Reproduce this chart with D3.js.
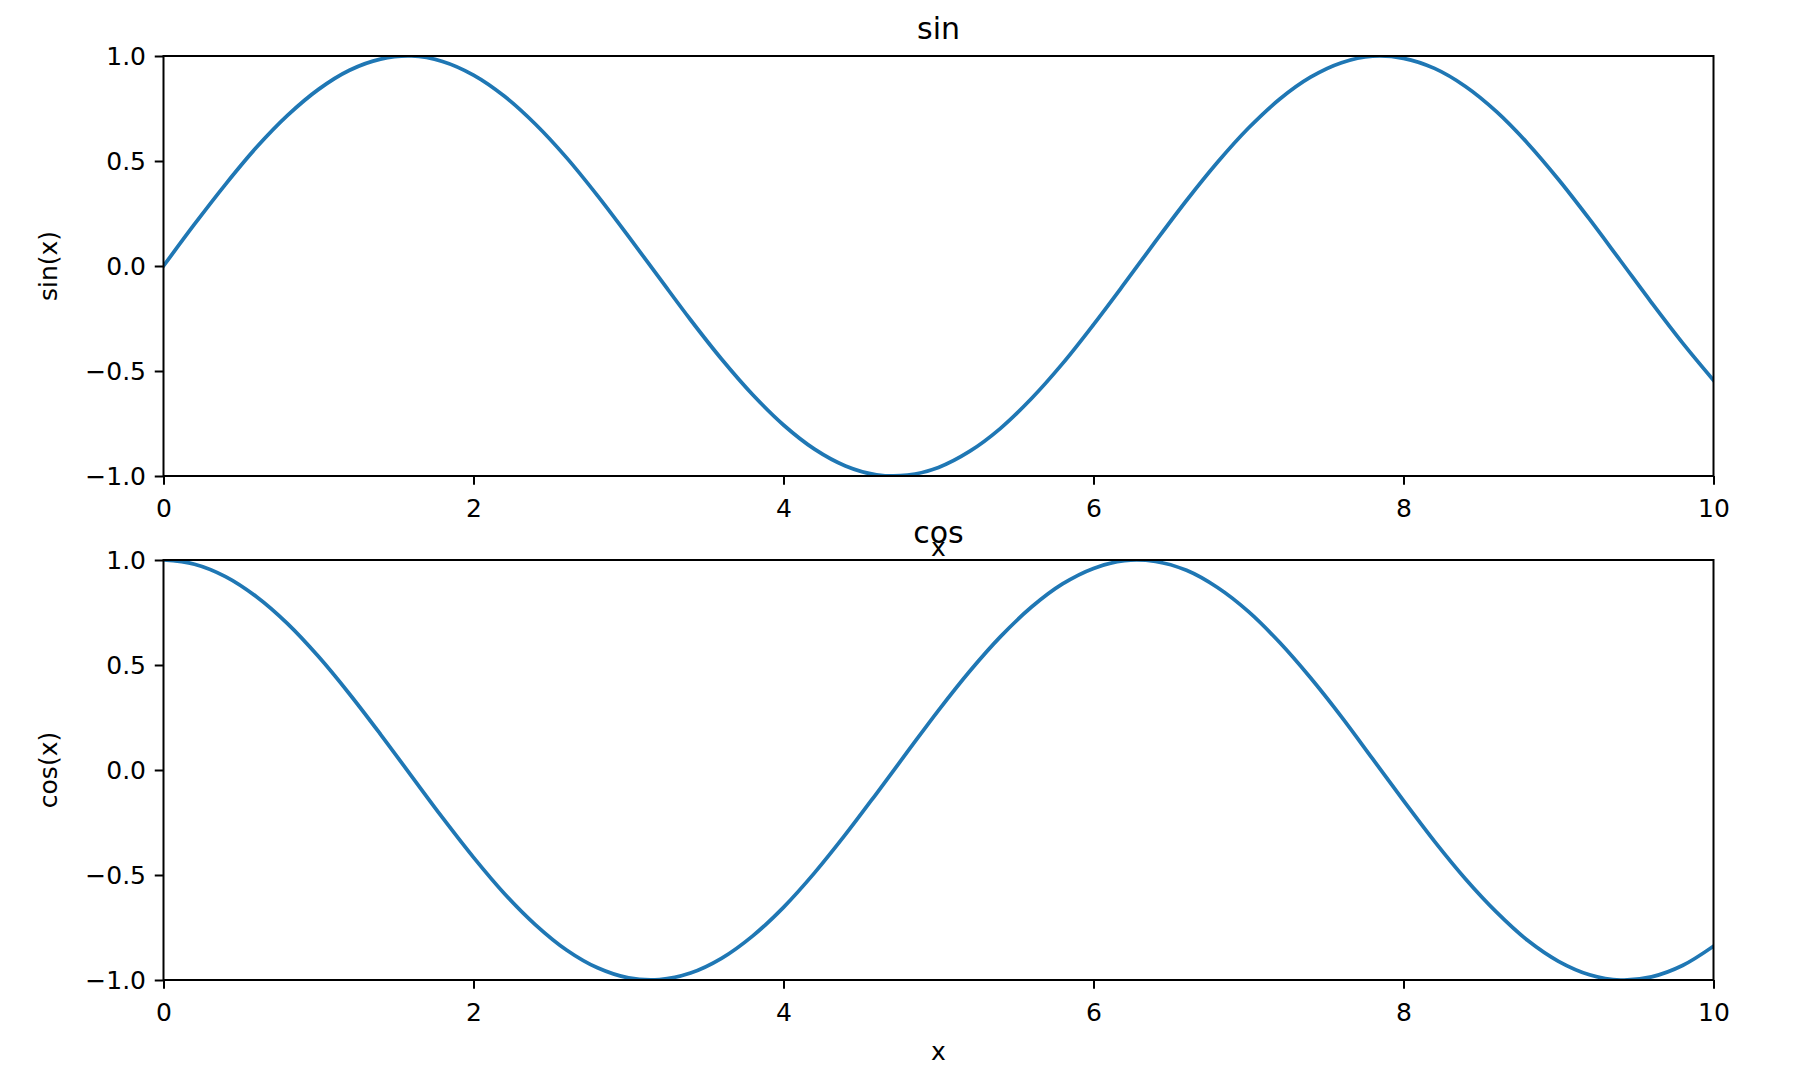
<!DOCTYPE html>
<html>
<head>
<meta charset="utf-8">
<script src="https://cdn.jsdelivr.net/npm/d3@7"></script>
<style>
  html, body { margin: 0; padding: 0; background: #fff; }
  svg { display: block; font-family: "DejaVu Sans", sans-serif; }
</style>
</head>
<body>
<svg id="chart" width="1802" height="1074"></svg>
<script>
// ---- data ----
const xValues = [0.0,0.2,0.4,0.6,0.8,1.0,1.2,1.4,1.6,1.8,2.0,2.2,2.4,2.6,2.8,3.0,3.2,3.4,3.6,3.8,4.0,4.2,4.4,4.6,4.8,5.0,5.2,5.4,5.6,5.8,6.0,6.2,6.4,6.6,6.8,7.0,7.2,7.4,7.6,7.8,8.0,8.2,8.4,8.6,8.8,9.0,9.2,9.4,9.6,9.8,10.0];
const sinValues = [0.000,0.199,0.389,0.565,0.717,0.841,0.932,0.985,1.000,0.974,0.909,0.808,0.675,0.516,0.335,0.141,-0.058,-0.256,-0.443,-0.612,-0.757,-0.872,-0.952,-0.994,-0.996,-0.959,-0.883,-0.773,-0.631,-0.465,-0.279,-0.083,0.117,0.312,0.494,0.657,0.794,0.899,0.968,0.999,0.989,0.941,0.855,0.735,0.585,0.412,0.223,0.025,-0.174,-0.366,-0.544];
const cosValues = [1.000,0.980,0.921,0.825,0.697,0.540,0.362,0.170,-0.029,-0.227,-0.416,-0.589,-0.737,-0.857,-0.942,-0.990,-0.998,-0.967,-0.897,-0.791,-0.654,-0.490,-0.307,-0.112,0.087,0.284,0.469,0.635,0.776,0.886,0.960,0.997,0.993,0.951,0.869,0.754,0.608,0.439,0.253,0.054,-0.146,-0.340,-0.519,-0.677,-0.811,-0.911,-0.975,-1.000,-0.985,-0.931,-0.839];
const xTicks = [0, 2, 4, 6, 8, 10];
const yTicks = [-1.0, -0.5, 0.0, 0.5, 1.0];
const panels = [
  { title: "sin", ylabel: "sin(x)", values: sinValues },
  { title: "cos", ylabel: "cos(x)", values: cosValues }
];

// ---- layout ----
const svg = d3.select("#chart");
const left = 163.5, right = 1713.5;
const tops = [56, 560], panelH = 420;
const tickFont = 25, titleFont = 30;
const lineColor = "#1f77b4";
const fmtY = d => (d < 0 ? "\u2212" : "") + Math.abs(d).toFixed(1);

const x = d3.scaleLinear().domain([0, 10]).range([left, right]);

panels.forEach((p, i) => {
  const top = tops[i], bottom = top + panelH;
  const y = d3.scaleLinear().domain([-1, 1]).range([bottom, top]);
  const g = svg.append("g");

  const clipId = "clip" + i;
  svg.append("clipPath").attr("id", clipId)
    .append("rect").attr("x", left).attr("y", top)
    .attr("width", right - left).attr("height", panelH);

  const line = d3.line().curve(d3.curveCatmullRom.alpha(0.5))
    .x(d => x(d[0])).y(d => y(d[1]));
  const pts = xValues.map((xv, k) => [xv, p.values[k]]);
  g.append("path").datum(pts)
    .attr("clip-path", `url(#${clipId})`)
    .attr("d", line)
    .attr("fill", "none")
    .attr("stroke", lineColor)
    .attr("stroke-width", 3.75)
    .attr("stroke-linejoin", "round")
    .attr("stroke-linecap", "square");

  // spines
  g.append("rect").attr("x", left).attr("y", top)
    .attr("width", right - left).attr("height", panelH)
    .attr("fill", "none").attr("stroke", "#000").attr("stroke-width", 2);

  // x axis
  const xAxis = d3.axisBottom(x).tickValues(xTicks).tickSize(8.75).tickPadding(8.75)
    .tickFormat(d3.format("d"));
  const gx = g.append("g").attr("transform", `translate(0,${bottom})`).call(xAxis);
  gx.select(".domain").remove();
  gx.selectAll(".tick line").attr("stroke", "#000").attr("stroke-width", 2);
  gx.selectAll(".tick text").attr("font-size", tickFont).attr("fill", "#000")
    .attr("font-family", "DejaVu Sans").attr("dy", "0.95em");

  // y axis
  const yAxis = d3.axisLeft(y).tickValues(yTicks).tickSize(8.75).tickPadding(8.75)
    .tickFormat(fmtY);
  const gy = g.append("g").attr("transform", `translate(${left},0)`).call(yAxis);
  gy.select(".domain").remove();
  gy.selectAll(".tick line").attr("stroke", "#000").attr("stroke-width", 2);
  gy.selectAll(".tick text").attr("font-size", tickFont).attr("fill", "#000")
    .attr("font-family", "DejaVu Sans");

  // title
  g.append("text").attr("x", (left + right) / 2).attr("y", top - 17)
    .attr("text-anchor", "middle").attr("font-size", titleFont).text(p.title);

  // x label
  g.append("text").attr("x", (left + right) / 2).attr("y", bottom + 80)
    .attr("text-anchor", "middle").attr("font-size", tickFont).text("x");

  // y label
  g.append("text")
    .attr("transform", `translate(57,${(top + bottom) / 2}) rotate(-90)`)
    .attr("text-anchor", "middle").attr("font-size", tickFont).text(p.ylabel);
});
</script>
</body>
</html>
